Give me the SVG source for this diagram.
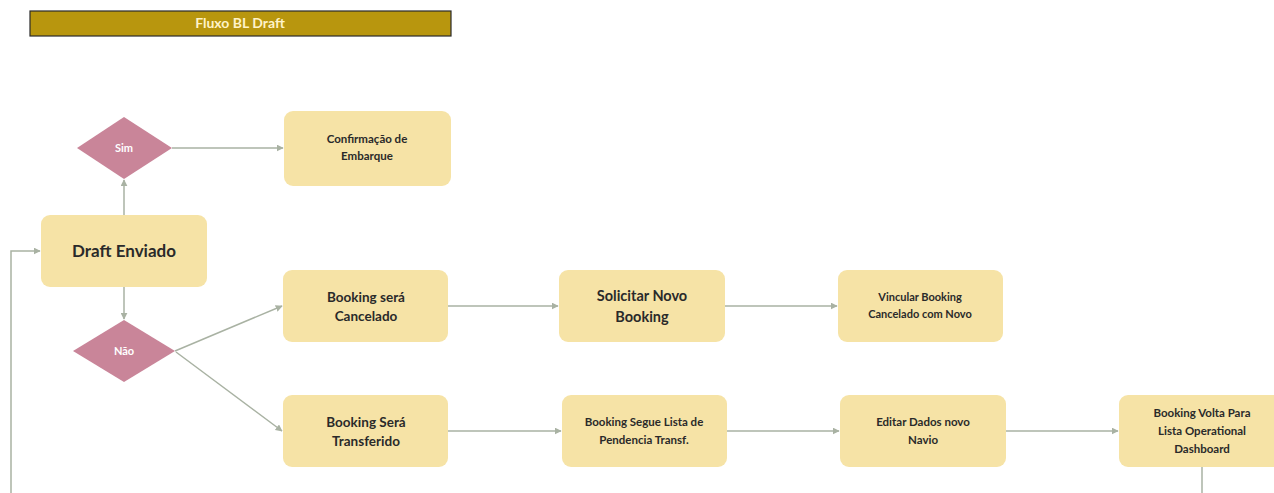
<svg xmlns="http://www.w3.org/2000/svg" width="1274" height="493" viewBox="0 0 1274 493">
<style>
.box{fill:#F6E3A6;}
.dia{fill:#C98599;}
.t{font-family:Lato,"Open Sans","Liberation Sans",sans-serif;font-weight:bold;fill:#2a2a2a;text-anchor:middle;}
.dt{font-family:Lato,"Open Sans","Liberation Sans",sans-serif;font-weight:bold;fill:#ffffff;text-anchor:middle;font-size:11px;}
.c{fill:none;stroke:#A9B2A3;stroke-width:1.5;}
</style>
<defs>
<marker id="ah" viewBox="0 0 10 10" refX="9" refY="5" markerWidth="7" markerHeight="7" markerUnits="userSpaceOnUse" orient="auto">
<path d="M0,0 L10,5 L0,10 z" fill="#A9B2A3"/>
</marker>
</defs>
<rect width="1274" height="493" fill="#ffffff"/>
<g id="title">
<rect x="30" y="11" width="421" height="25" fill="#B8960E" stroke="#2a2a2a" stroke-width="1.2"/>
<text x="240" y="28" font-family="Lato,'Open Sans','Liberation Sans',sans-serif" font-weight="bold" font-size="14" fill="#FFF3C8" text-anchor="middle">Fluxo BL Draft</text>
</g>
<g id="connectors">
<path class="c" d="M124,215 L124,180" marker-end="url(#ah)"/>
<path class="c" d="M172,148 L283,148" marker-end="url(#ah)"/>
<path class="c" d="M124,287 L124,319" marker-end="url(#ah)"/>
<path class="c" d="M175,351 L282,306" marker-end="url(#ah)"/>
<path class="c" d="M176,352 L282,431" marker-end="url(#ah)"/>
<path class="c" d="M448,306 L558,306" marker-end="url(#ah)"/>
<path class="c" d="M725,306 L837,306" marker-end="url(#ah)"/>
<path class="c" d="M448,431 L561,431" marker-end="url(#ah)"/>
<path class="c" d="M727,431 L839,431" marker-end="url(#ah)"/>
<path class="c" d="M1006,431 L1118,431" marker-end="url(#ah)"/>
<path class="c" d="M1202,467 L1202,493"/>
<path class="c" d="M11,493 L11,251 L40,251" marker-end="url(#ah)"/>
</g>
<g id="sim">
<polygon class="dia" points="77,148 124,117 172,148 124,179"/>
<text class="dt" x="124" y="152">Sim</text>
</g>
<g id="nao">
<polygon class="dia" points="73,351 124,320 175,351 124,382"/>
<text class="dt" x="124" y="355">Não</text>
</g>
<g id="confirmacao">
<rect class="box" x="284" y="111" width="167" height="75" rx="9"/>
<text class="t" font-size="11.5"><tspan x="367" y="143">Confirmação de</tspan><tspan x="367" y="160">Embarque</tspan></text>
</g>
<g id="draft">
<rect class="box" x="41" y="215" width="166" height="72" rx="9"/>
<text class="t" font-size="17" x="124" y="257">Draft Enviado</text>
</g>
<g id="cancelado">
<rect class="box" x="283" y="270" width="165" height="72" rx="9"/>
<text class="t" font-size="13.5"><tspan x="366" y="302">Booking será</tspan><tspan x="366" y="321">Cancelado</tspan></text>
</g>
<g id="solicitar">
<rect class="box" x="559" y="270" width="166" height="72" rx="9"/>
<text class="t" font-size="14.5"><tspan x="642" y="301">Solicitar Novo</tspan><tspan x="642" y="322">Booking</tspan></text>
</g>
<g id="vincular">
<rect class="box" x="838" y="270" width="165" height="72" rx="9"/>
<text class="t" font-size="11"><tspan x="920" y="301">Vincular Booking</tspan><tspan x="920" y="318">Cancelado com Novo</tspan></text>
</g>
<g id="transferido">
<rect class="box" x="283" y="395" width="165" height="72" rx="9"/>
<text class="t" font-size="13.5"><tspan x="366" y="427">Booking Será</tspan><tspan x="366" y="446">Transferido</tspan></text>
</g>
<g id="segue">
<rect class="box" x="562" y="395" width="165" height="72" rx="9"/>
<text class="t" font-size="11.5"><tspan x="644" y="426">Booking Segue Lista de</tspan><tspan x="644" y="444">Pendencia Transf.</tspan></text>
</g>
<g id="editar">
<rect class="box" x="840" y="395" width="166" height="72" rx="9"/>
<text class="t" font-size="11.5"><tspan x="923" y="426">Editar Dados novo</tspan><tspan x="923" y="444">Navio</tspan></text>
</g>
<g id="volta">
<rect class="box" x="1119" y="395" width="166" height="72" rx="9"/>
<text class="t" font-size="11.5"><tspan x="1202" y="417">Booking Volta Para</tspan><tspan x="1202" y="435">Lista Operational</tspan><tspan x="1202" y="453">Dashboard</tspan></text>
</g>
</svg>
